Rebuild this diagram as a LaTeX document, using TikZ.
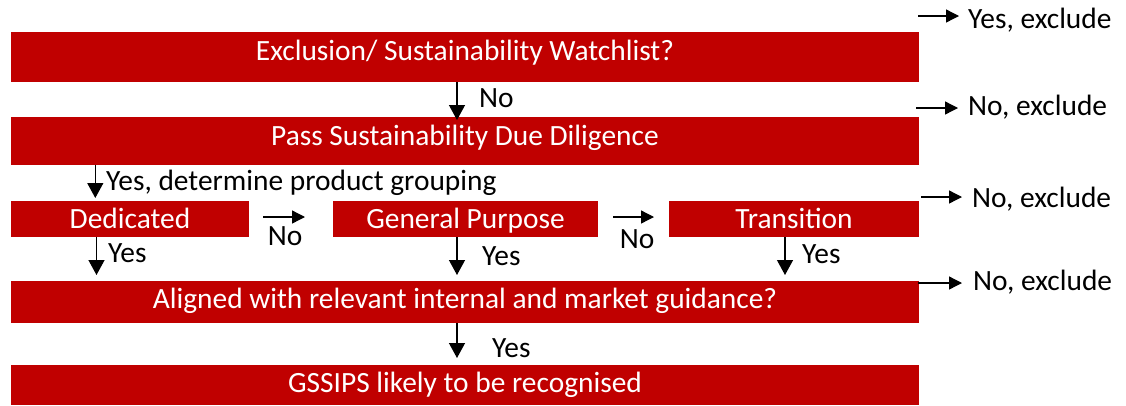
\documentclass[tikz,border=0pt]{standalone}
\usepackage{fontspec}
\setmainfont{Carlito}
\usetikzlibrary{arrows.meta}
\definecolor{boxred}{HTML}{C00000}
\tikzset{
  x=1pt, y=-1pt,
  redbox/.style={fill=boxred, draw=none, inner sep=0pt, anchor=north west},
  boxtext/.style={text=white, inner sep=0pt, anchor=base, font=\fontsize{29.4}{34}\selectfont},
  lbl/.style={text=black, inner sep=0pt, anchor=base west, font=\fontsize{29.4}{34}\selectfont},
  lblc/.style={text=black, inner sep=0pt, anchor=base, font=\fontsize{29.4}{34}\selectfont},
  varrow/.style={line width=1.3pt, -{Triangle[length=15pt,width=16pt]}},
  harrow/.style={line width=1.3pt, -{Triangle[length=13pt,width=13pt]}},
}
\begin{document}
\begin{tikzpicture}
\useasboundingbox (0,0) rectangle (1126,405);
% boxes
\node[redbox, minimum width=908pt, minimum height=49.7pt] (b1) at (11,32) {};
\node[redbox, minimum width=908pt, minimum height=47.3pt] (b2) at (11,117) {};
\node[redbox, minimum width=238pt, minimum height=36pt] (bd) at (11,201) {};
\node[redbox, minimum width=265pt, minimum height=36pt] (bg) at (333,201) {};
\node[redbox, minimum width=250pt, minimum height=36pt] (bt) at (669,201) {};
\node[redbox, minimum width=908pt, minimum height=42pt] (b4) at (11,281) {};
\node[redbox, minimum width=908pt, minimum height=40pt] (b5) at (11,365) {};
% box texts
\node[boxtext] (t1) at (465,60) {Exclusion/ Sustainability Watchlist?};
\node[boxtext] (t2) at (465,145) {Pass Sustainability Due Diligence};
\node[boxtext] (td) at (130,228) {Dedicated};
\node[boxtext] (tg) at (465.5,228) {General Purpose};
\node[boxtext] (tt) at (794,228) {Transition};
\node[boxtext] (t4) at (465,308) {Aligned with relevant internal and market guidance?};
\node[boxtext] (t5) at (465,392) {GSSIPS likely to be recognised};
% column coordinates
\coordinate (cmid) at (457,0);
\coordinate (cded) at (96.5,0);
\coordinate (ctra) at (785,0);
\coordinate (cdet) at (95.3,0);
% vertical arrows
\draw[varrow] (cmid |- b1.south) -- ([yshift=-3pt]cmid |- b2.north);
\node[lbl] (no1) at (479,107) {No};
\draw[varrow] (cdet |- b2.south) -- ([yshift=3pt]cdet |- bd.north);
\node[lbl] (ydet) at (106,190) {Yes, determine product grouping};
\draw[varrow] (cded |- bd.south) -- ([yshift=6pt]cded |- b4.north);
\node[lbl] (yd) at (108,262) {Yes};
\draw[varrow] (cmid |- bg.south) -- ([yshift=6pt]cmid |- b4.north);
\node[lbl] (yg) at (482,265) {Yes};
\draw[varrow] (ctra |- bt.south) -- ([yshift=6pt]ctra |- b4.north);
\node[lbl] (yt) at (802,263) {Yes};
\draw[varrow] (cmid |- b4.south) -- ([yshift=7pt]cmid |- b5.north);
\node[lbl] (y5) at (492,357) {Yes};
% horizontal arrows between groupings
\coordinate (h1s) at (263,217);
\coordinate (h1e) at (305,217);
\draw[harrow] (h1s) -- (h1e);
\node[lblc] (no2) at (285,245) {No};
\coordinate (h2s) at (613,217);
\coordinate (h2e) at (654,217);
\draw[harrow] (h2s) -- (h2e);
\node[lblc] (no3) at (637,248) {No};
% right side exclusion arrows
\node[lbl] (ex1) at (968,28) {Yes, exclude};
\coordinate (r1s) at (918,16);
\draw[harrow] (r1s) -- ([xshift=-9pt]r1s -| ex1.west);
\node[lbl] (ex2) at (968,115) {No, exclude};
\coordinate (r2s) at (916,108);
\draw[harrow] (r2s) -- ([xshift=-10pt]r2s -| ex2.west);
\node[lbl] (ex3) at (972,207) {No, exclude};
\coordinate (r3s) at (921,197);
\draw[harrow] (r3s) -- ([xshift=-10pt]r3s -| ex3.west);
\node[lbl] (ex4) at (973,290) {No, exclude};
\coordinate (r4s) at (918,283);
\draw[harrow] (r4s) -- ([xshift=-11pt]r4s -| ex4.west);
\end{tikzpicture}
\end{document}
